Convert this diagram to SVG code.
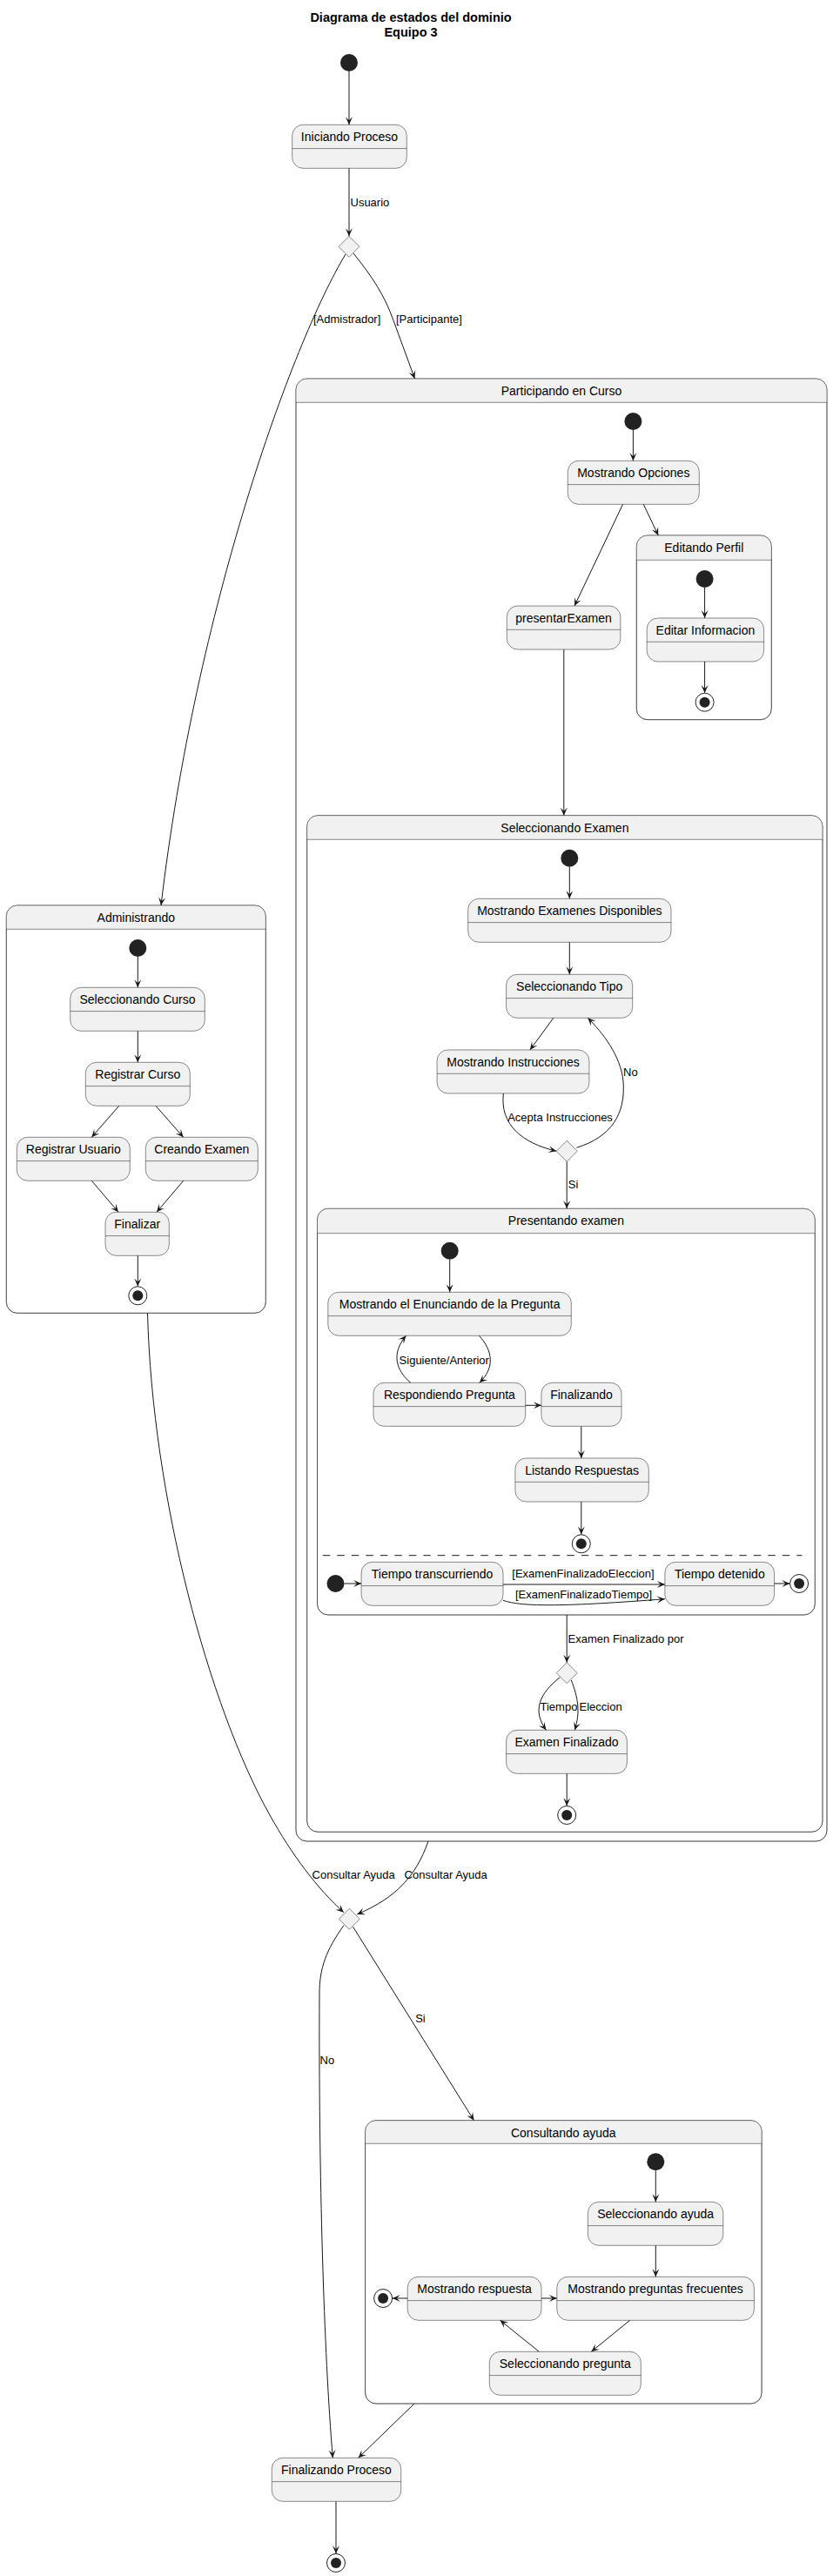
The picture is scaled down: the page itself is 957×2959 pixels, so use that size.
<svg xmlns="http://www.w3.org/2000/svg" width="957" height="2959" viewBox="0 0 957 2959">
<style>
.st{fill:#F1F1F1;stroke:#181818;stroke-width:0.5}
.cb{fill:#FFFFFF;stroke:#181818;stroke-width:0.5}
.ch{fill:#F1F1F1;stroke:none}
.dv{stroke:#181818;stroke-width:0.5}
.sn{font-family:"Liberation Sans",Arial,sans-serif;font-size:14px;fill:#000;text-anchor:middle}
.lb{font-family:"Liberation Sans",Arial,sans-serif;font-size:13px;fill:#000}
.tt{font-family:"Liberation Sans",Arial,sans-serif;font-size:14.5px;font-weight:bold;fill:#000;text-anchor:middle}
.ar{fill:none;stroke:#181818;stroke-width:1;marker-end:url(#a)}
.ln{fill:none;stroke:#181818;stroke-width:1}
.in{fill:#222222}
.fo{fill:none;stroke:#222222;stroke-width:1}
.dm{fill:#F1F1F1;stroke:#181818;stroke-width:0.5}
</style>
<defs>
<marker id="a" viewBox="-10 -5 11 10" refX="0" refY="0" markerWidth="11" markerHeight="10" orient="auto" markerUnits="userSpaceOnUse">
<path d="M0,0 L-9,-4 L-5,0 L-9,4 Z" fill="#181818"/>
</marker>
</defs>
<rect x="0" y="0" width="957" height="2959" fill="#FFFFFF"/>
<g id="title">
<text class="tt" x="472" y="25">Diagrama de estados del dominio</text>
<text class="tt" x="472" y="42">Equipo 3</text>
</g>

<!-- composites -->
<g id="participando">
<rect class="cb" x="340" y="435" width="610" height="1680" rx="12.5"/>
<path class="ch" d="M340,462.3 V447.5 A12.5,12.5 0 0 1 352.5,435 H937.5 A12.5,12.5 0 0 1 950,447.5 V462.3 Z"/>
<rect x="340" y="435" width="610" height="1680" rx="12.5" fill="none" stroke="#181818" stroke-width="0.5"/>
<line class="dv" x1="340" y1="462.3" x2="950" y2="462.3"/>
<text class="sn" x="645" y="454">Participando en Curso</text>
</g>
<g id="editando">
<rect class="cb" x="731.3" y="615" width="155" height="211.7" rx="12.5"/>
<path class="ch" d="M731.3,643.3 V627.5 A12.5,12.5 0 0 1 743.8,615 H873.8 A12.5,12.5 0 0 1 886.3,627.5 V643.3 Z"/>
<rect x="731.3" y="615" width="155" height="211.7" rx="12.5" fill="none" stroke="#181818" stroke-width="0.5"/>
<line class="dv" x1="731.3" y1="643.3" x2="886.3" y2="643.3"/>
<text class="sn" x="808.8" y="634">Editando Perfil</text>
</g>
<g id="selexamen">
<rect class="cb" x="352.7" y="936.7" width="592.3" height="1167.6" rx="12.5"/>
<path class="ch" d="M352.7,964.3 V949.2 A12.5,12.5 0 0 1 365.2,936.7 H932.5 A12.5,12.5 0 0 1 945,949.2 V964.3 Z"/>
<rect x="352.7" y="936.7" width="592.3" height="1167.6" rx="12.5" fill="none" stroke="#181818" stroke-width="0.5"/>
<line class="dv" x1="352.7" y1="964.3" x2="945" y2="964.3"/>
<text class="sn" x="648.9" y="955.7">Seleccionando Examen</text>
</g>
<g id="presentando">
<rect class="cb" x="364.5" y="1388.3" width="571.8" height="466.7" rx="12.5"/>
<path class="ch" d="M364.5,1416.7 V1400.8 A12.5,12.5 0 0 1 377,1388.3 H923.8 A12.5,12.5 0 0 1 936.3,1400.8 V1416.7 Z"/>
<rect x="364.5" y="1388.3" width="571.8" height="466.7" rx="12.5" fill="none" stroke="#181818" stroke-width="0.5"/>
<line class="dv" x1="364.5" y1="1416.7" x2="936.3" y2="1416.7"/>
<text class="sn" x="650.4" y="1407.3">Presentando examen</text>
<line x1="370.8" y1="1786.7" x2="921.3" y2="1786.7" stroke="#181818" stroke-width="1" stroke-dasharray="8.5,8"/>
</g>
<g id="administrando">
<rect class="cb" x="7.3" y="1040" width="298" height="468.3" rx="12.5"/>
<path class="ch" d="M7.3,1067.3 V1052.5 A12.5,12.5 0 0 1 19.8,1040 H292.8 A12.5,12.5 0 0 1 305.3,1052.5 V1067.3 Z"/>
<rect x="7.3" y="1040" width="298" height="468.3" rx="12.5" fill="none" stroke="#181818" stroke-width="0.5"/>
<line class="dv" x1="7.3" y1="1067.3" x2="305.3" y2="1067.3"/>
<text class="sn" x="156.3" y="1059">Administrando</text>
</g>
<g id="consultando">
<rect class="cb" x="419.6" y="2435.7" width="455.5" height="325.3" rx="12.5"/>
<path class="ch" d="M419.6,2462.3 V2448.2 A12.5,12.5 0 0 1 432.1,2435.7 H862.6 A12.5,12.5 0 0 1 875.1,2448.2 V2462.3 Z"/>
<rect x="419.6" y="2435.7" width="455.5" height="325.3" rx="12.5" fill="none" stroke="#181818" stroke-width="0.5"/>
<line class="dv" x1="419.6" y1="2462.3" x2="875.1" y2="2462.3"/>
<text class="sn" x="647.3" y="2454.5">Consultando ayuda</text>
</g>

<!-- pseudo states -->
<g id="init0"><circle class="in" cx="401" cy="72" r="10"/></g>
<g id="dec1"><polygon class="dm" points="401,271.3 413,283.3 401,295.3 389,283.3"/></g>
<g id="init_part"><circle class="in" cx="727.4" cy="484" r="10"/></g>
<g id="init_edit"><circle class="in" cx="809.6" cy="665" r="10"/></g>
<g id="final_edit"><circle class="fo" cx="809.6" cy="806.7" r="10.5"/><circle class="in" cx="809.6" cy="806.7" r="6"/></g>
<g id="init_sel"><circle class="in" cx="654.3" cy="985.7" r="10"/></g>
<g id="dec_sel"><polygon class="dm" points="651.2,1310.3 663.2,1322.3 651.2,1334.3 639.2,1322.3"/></g>
<g id="init_pres"><circle class="in" cx="516.7" cy="1436.7" r="10"/></g>
<g id="final_pres"><circle class="fo" cx="667.8" cy="1773.3" r="10.5"/><circle class="in" cx="667.8" cy="1773.3" r="6"/></g>
<g id="init_pres2"><circle class="in" cx="385.5" cy="1819" r="10"/></g>
<g id="final_pres2"><circle class="fo" cx="918.1" cy="1819" r="10.5"/><circle class="in" cx="918.1" cy="1819" r="6"/></g>
<g id="dec_fin"><polygon class="dm" points="651.2,1909.7 663.2,1921.7 651.2,1933.7 639.2,1921.7"/></g>
<g id="final_sel"><circle class="fo" cx="651.2" cy="2085" r="10.5"/><circle class="in" cx="651.2" cy="2085" r="6"/></g>
<g id="init_adm"><circle class="in" cx="158.3" cy="1089" r="10"/></g>
<g id="final_adm"><circle class="fo" cx="158.3" cy="1488.3" r="10.5"/><circle class="in" cx="158.3" cy="1488.3" r="6"/></g>
<g id="dec2"><polygon class="dm" points="401.4,2192.3 413.4,2204.3 401.4,2216.3 389.4,2204.3"/></g>
<g id="init_ca"><circle class="in" cx="753.3" cy="2483.3" r="10"/></g>
<g id="final_ca"><circle class="fo" cx="440.1" cy="2640" r="10.5"/><circle class="in" cx="440.1" cy="2640" r="6"/></g>
<g id="final0"><circle class="fo" cx="386" cy="2944" r="10.5"/><circle class="in" cx="386" cy="2944" r="6"/></g>

<!-- simple states -->
<g id="iniciando"><rect class="st" x="335.7" y="143.3" width="131.6" height="50" rx="12.5"/><line class="dv" x1="335.7" y1="170.6" x2="467.3" y2="170.6"/><text class="sn" x="401.5" y="162.3">Iniciando Proceso</text></g>
<g id="mostrandoOpciones"><rect class="st" x="652.3" y="529.3" width="151" height="50" rx="12.5"/><line class="dv" x1="652.3" y1="556.6" x2="803.3" y2="556.6"/><text class="sn" x="727.8" y="548.3">Mostrando Opciones</text></g>
<g id="editarInformacion"><rect class="st" x="743.2" y="710" width="134.4" height="50" rx="12.5"/><line class="dv" x1="743.2" y1="737.3" x2="877.6" y2="737.3"/><text class="sn" x="810.4" y="729">Editar Informacion</text></g>
<g id="presentarExamen"><rect class="st" x="582.3" y="696" width="130.5" height="50" rx="12.5"/><line class="dv" x1="582.3" y1="723.3" x2="712.8" y2="723.3"/><text class="sn" x="647.6" y="715">presentarExamen</text></g>
<g id="mostrandoExamenes"><rect class="st" x="537.7" y="1032.3" width="233.3" height="50" rx="12.5"/><line class="dv" x1="537.7" y1="1059.6" x2="771" y2="1059.6"/><text class="sn" x="654.4" y="1051.3">Mostrando Examenes Disponibles</text></g>
<g id="seleccionandoTipo"><rect class="st" x="581.6" y="1119.3" width="145.1" height="50" rx="12.5"/><line class="dv" x1="581.6" y1="1146.6" x2="726.7" y2="1146.6"/><text class="sn" x="654.2" y="1138.3">Seleccionando Tipo</text></g>
<g id="mostrandoInstrucciones"><rect class="st" x="502.1" y="1206" width="174.8" height="50" rx="12.5"/><line class="dv" x1="502.1" y1="1233.3" x2="676.9" y2="1233.3"/><text class="sn" x="589.5" y="1225">Mostrando Instrucciones</text></g>
<g id="mostrandoEnunciado"><rect class="st" x="376.8" y="1484.3" width="279.5" height="50" rx="12.5"/><line class="dv" x1="376.8" y1="1511.6" x2="656.3" y2="1511.6"/><text class="sn" x="516.6" y="1503.3">Mostrando el Enunciando de la Pregunta</text></g>
<g id="respondiendo"><rect class="st" x="429" y="1588.3" width="174.7" height="50" rx="12.5"/><line class="dv" x1="429" y1="1615.6" x2="603.7" y2="1615.6"/><text class="sn" x="516.4" y="1607.3">Respondiendo Pregunta</text></g>
<g id="finalizando"><rect class="st" x="621.9" y="1588.3" width="92.1" height="50" rx="12.5"/><line class="dv" x1="621.9" y1="1615.6" x2="714" y2="1615.6"/><text class="sn" x="668" y="1607.3">Finalizando</text></g>
<g id="listando"><rect class="st" x="591.9" y="1675" width="153.4" height="50" rx="12.5"/><line class="dv" x1="591.9" y1="1702.3" x2="745.3" y2="1702.3"/><text class="sn" x="668.6" y="1694">Listando Respuestas</text></g>
<g id="tiempoTrans"><rect class="st" x="415.1" y="1794.3" width="162.9" height="50" rx="12.5"/><line class="dv" x1="415.1" y1="1821.6" x2="578" y2="1821.6"/><text class="sn" x="496.6" y="1813.3">Tiempo transcurriendo</text></g>
<g id="tiempoDet"><rect class="st" x="763.9" y="1794.3" width="125.7" height="50" rx="12.5"/><line class="dv" x1="763.9" y1="1821.6" x2="889.6" y2="1821.6"/><text class="sn" x="826.8" y="1813.3">Tiempo detenido</text></g>
<g id="examenFinalizado"><rect class="st" x="581.6" y="1987.3" width="138.8" height="50" rx="12.5"/><line class="dv" x1="581.6" y1="2014.6" x2="720.4" y2="2014.6"/><text class="sn" x="651" y="2006.3">Examen Finalizado</text></g>
<g id="selCurso"><rect class="st" x="80.7" y="1134.3" width="154.6" height="50" rx="12.5"/><line class="dv" x1="80.7" y1="1161.6" x2="235.3" y2="1161.6"/><text class="sn" x="158" y="1153.3">Seleccionando Curso</text></g>
<g id="regCurso"><rect class="st" x="98.3" y="1220.3" width="120" height="50" rx="12.5"/><line class="dv" x1="98.3" y1="1247.6" x2="218.3" y2="1247.6"/><text class="sn" x="158.3" y="1239.3">Registrar Curso</text></g>
<g id="regUsuario"><rect class="st" x="19.3" y="1306.3" width="130" height="50" rx="12.5"/><line class="dv" x1="19.3" y1="1333.6" x2="149.3" y2="1333.6"/><text class="sn" x="84.3" y="1325.3">Registrar Usuario</text></g>
<g id="creandoExamen"><rect class="st" x="167.3" y="1306.3" width="129" height="50" rx="12.5"/><line class="dv" x1="167.3" y1="1333.6" x2="296.3" y2="1333.6"/><text class="sn" x="231.8" y="1325.3">Creando Examen</text></g>
<g id="finalizar"><rect class="st" x="121" y="1392.3" width="73.3" height="50" rx="12.5"/><line class="dv" x1="121" y1="1419.6" x2="194.3" y2="1419.6"/><text class="sn" x="157.7" y="1411.3">Finalizar</text></g>
<g id="selAyuda"><rect class="st" x="675.4" y="2529.3" width="155.4" height="50" rx="12.5"/><line class="dv" x1="675.4" y1="2556.6" x2="830.8" y2="2556.6"/><text class="sn" x="753.1" y="2548.3">Seleccionando ayuda</text></g>
<g id="mostrandoPF"><rect class="st" x="639.8" y="2615.3" width="226.6" height="50" rx="12.5"/><line class="dv" x1="639.8" y1="2642.6" x2="866.4" y2="2642.6"/><text class="sn" x="753.1" y="2634.3">Mostrando preguntas frecuentes</text></g>
<g id="mostrandoResp"><rect class="st" x="468.2" y="2615.3" width="153.8" height="50" rx="12.5"/><line class="dv" x1="468.2" y1="2642.6" x2="622" y2="2642.6"/><text class="sn" x="545.1" y="2634.3">Mostrando respuesta</text></g>
<g id="selPregunta"><rect class="st" x="562.3" y="2701.3" width="174" height="50" rx="12.5"/><line class="dv" x1="562.3" y1="2728.6" x2="736.3" y2="2728.6"/><text class="sn" x="649.3" y="2720.3">Seleccionando pregunta</text></g>
<g id="finalizandoProceso"><rect class="st" x="312.3" y="2823.3" width="148.4" height="50" rx="12.5"/><line class="dv" x1="312.3" y1="2850.6" x2="460.7" y2="2850.6"/><text class="sn" x="386.5" y="2842.3">Finalizando Proceso</text></g>

<!-- connectors -->
<g id="connectors">
<path class="ar" d="M401,82 L401,143.3"/>
<path class="ar" d="M401,193.3 L401,271.3"/>
<text class="lb" x="402.5" y="237">Usuario</text>
<path class="ar" d="M397,292 C335,395 225,700 185,1040"/>
<text class="lb" x="360" y="370.7">[Admistrador]</text>
<path class="ar" d="M406,291 C428,318 442,340 452,368 L476.5,435"/>
<text class="lb" x="455" y="370.7">[Participante]</text>

<path class="ar" d="M727.4,494 L727.4,529.3"/>
<path class="ar" d="M715.5,579.3 L660,696"/>
<path class="ar" d="M739.3,579.3 L756.3,615"/>
<path class="ar" d="M809.6,675 L809.6,710"/>
<path class="ar" d="M809.6,760 L809.6,796"/>
<path class="ar" d="M647.8,746 L647.8,936.7"/>

<path class="ar" d="M654.3,995.7 L654.3,1032.3"/>
<path class="ar" d="M654.3,1082.3 L654.3,1119.3"/>
<path class="ar" d="M635.8,1169.3 L608.9,1206"/>
<path class="ar" d="M578.4,1256 C574,1292 600,1313 639.2,1322.3"/>
<text class="lb" x="583.2" y="1288.3">Acepta Instrucciones</text>
<path class="ar" d="M662.5,1318.3 C702,1306 719,1280 716,1242 C713,1212 692,1186 675.3,1169.3"/>
<text class="lb" x="716" y="1236">No</text>
<path class="ar" d="M651.2,1334.3 L651.2,1388.3"/>
<text class="lb" x="652.8" y="1365">Si</text>

<path class="ar" d="M516.7,1446.7 L516.7,1484.3"/>
<path class="ar" d="M550.4,1534.3 C566,1551 569,1571 550.8,1588.3"/>
<path class="ar" d="M471.7,1588.3 C455,1574 449,1555 466.5,1534.3"/>
<text class="lb" x="458.6" y="1566.7">Siguiente/Anterior</text>
<path class="ar" d="M603.7,1614.3 L621.9,1614.3"/>
<path class="ar" d="M667.8,1638.3 L667.8,1675"/>
<path class="ar" d="M667.8,1725 L667.8,1762.5"/>
<path class="ar" d="M395.5,1819 L415.1,1819"/>
<path class="ar" d="M578,1820 L763.9,1820"/>
<text class="lb" x="588.3" y="1811.7">[ExamenFinalizadoEleccion]</text>
<path class="ar" d="M578,1838.3 C600,1846 650,1845.5 763.9,1836.7"/>
<text class="lb" x="592" y="1836">[ExamenFinalizadoTiempo]</text>
<path class="ar" d="M889.6,1819 L907.4,1819"/>

<path class="ar" d="M651.2,1855 L651.2,1909.7"/>
<text class="lb" x="652.6" y="1886.7">Examen Finalizado por</text>
<path class="ar" d="M643.3,1926.7 C620,1945 611,1965 627.5,1987.3"/>
<text class="lb" x="620.5" y="1965">Tiempo</text>
<path class="ar" d="M656.3,1930 C664,1950 667,1966 660.3,1987.3"/>
<text class="lb" x="665.5" y="1965">Eleccion</text>
<path class="ar" d="M651.2,2037.3 L651.2,2074.3"/>

<path class="ar" d="M158.3,1099 L158.3,1134.3"/>
<path class="ar" d="M158.3,1184.3 L158.3,1220.3"/>
<path class="ar" d="M136.7,1270.3 L105.3,1306.3"/>
<path class="ar" d="M179,1270.3 L210.7,1306.3"/>
<path class="ar" d="M105.3,1356.3 L136,1392.3"/>
<path class="ar" d="M210.7,1356.3 L180,1392.3"/>
<path class="ar" d="M158.3,1442.3 L158.3,1477.6"/>

<path class="ar" d="M169.5,1508.3 C175,1720 240,1960 310,2085 C335,2130 365,2170 394.9,2196.7"/>
<text class="lb" x="358.6" y="2158.3">Consultar Ayuda</text>
<path class="ar" d="M492,2115 C478,2155 455,2180 410.2,2199"/>
<text class="lb" x="464.6" y="2158.3">Consultar Ayuda</text>

<path class="ar" d="M405.6,2213.3 L544.5,2435.7"/>
<text class="lb" x="477.2" y="2322.7">Si</text>
<path class="ar" d="M394.9,2211.7 C375,2240 367,2260 367,2290 C366,2500 372,2700 382.3,2823.3"/>
<text class="lb" x="367.6" y="2370.7">No</text>

<path class="ar" d="M753.3,2493.3 L753.3,2529.3"/>
<path class="ar" d="M753.3,2579.3 L753.3,2615.3"/>
<path class="ar" d="M622,2640 L639.8,2640"/>
<path class="ar" d="M468.2,2640 L450.8,2640"/>
<path class="ar" d="M723.6,2665.3 L679.4,2701.3"/>
<path class="ar" d="M619.3,2701.3 L574.6,2665.3"/>

<path class="ar" d="M476,2761 L411.7,2823.3"/>
<path class="ar" d="M386,2873.3 L386,2933.3"/>
</g>
</svg>
